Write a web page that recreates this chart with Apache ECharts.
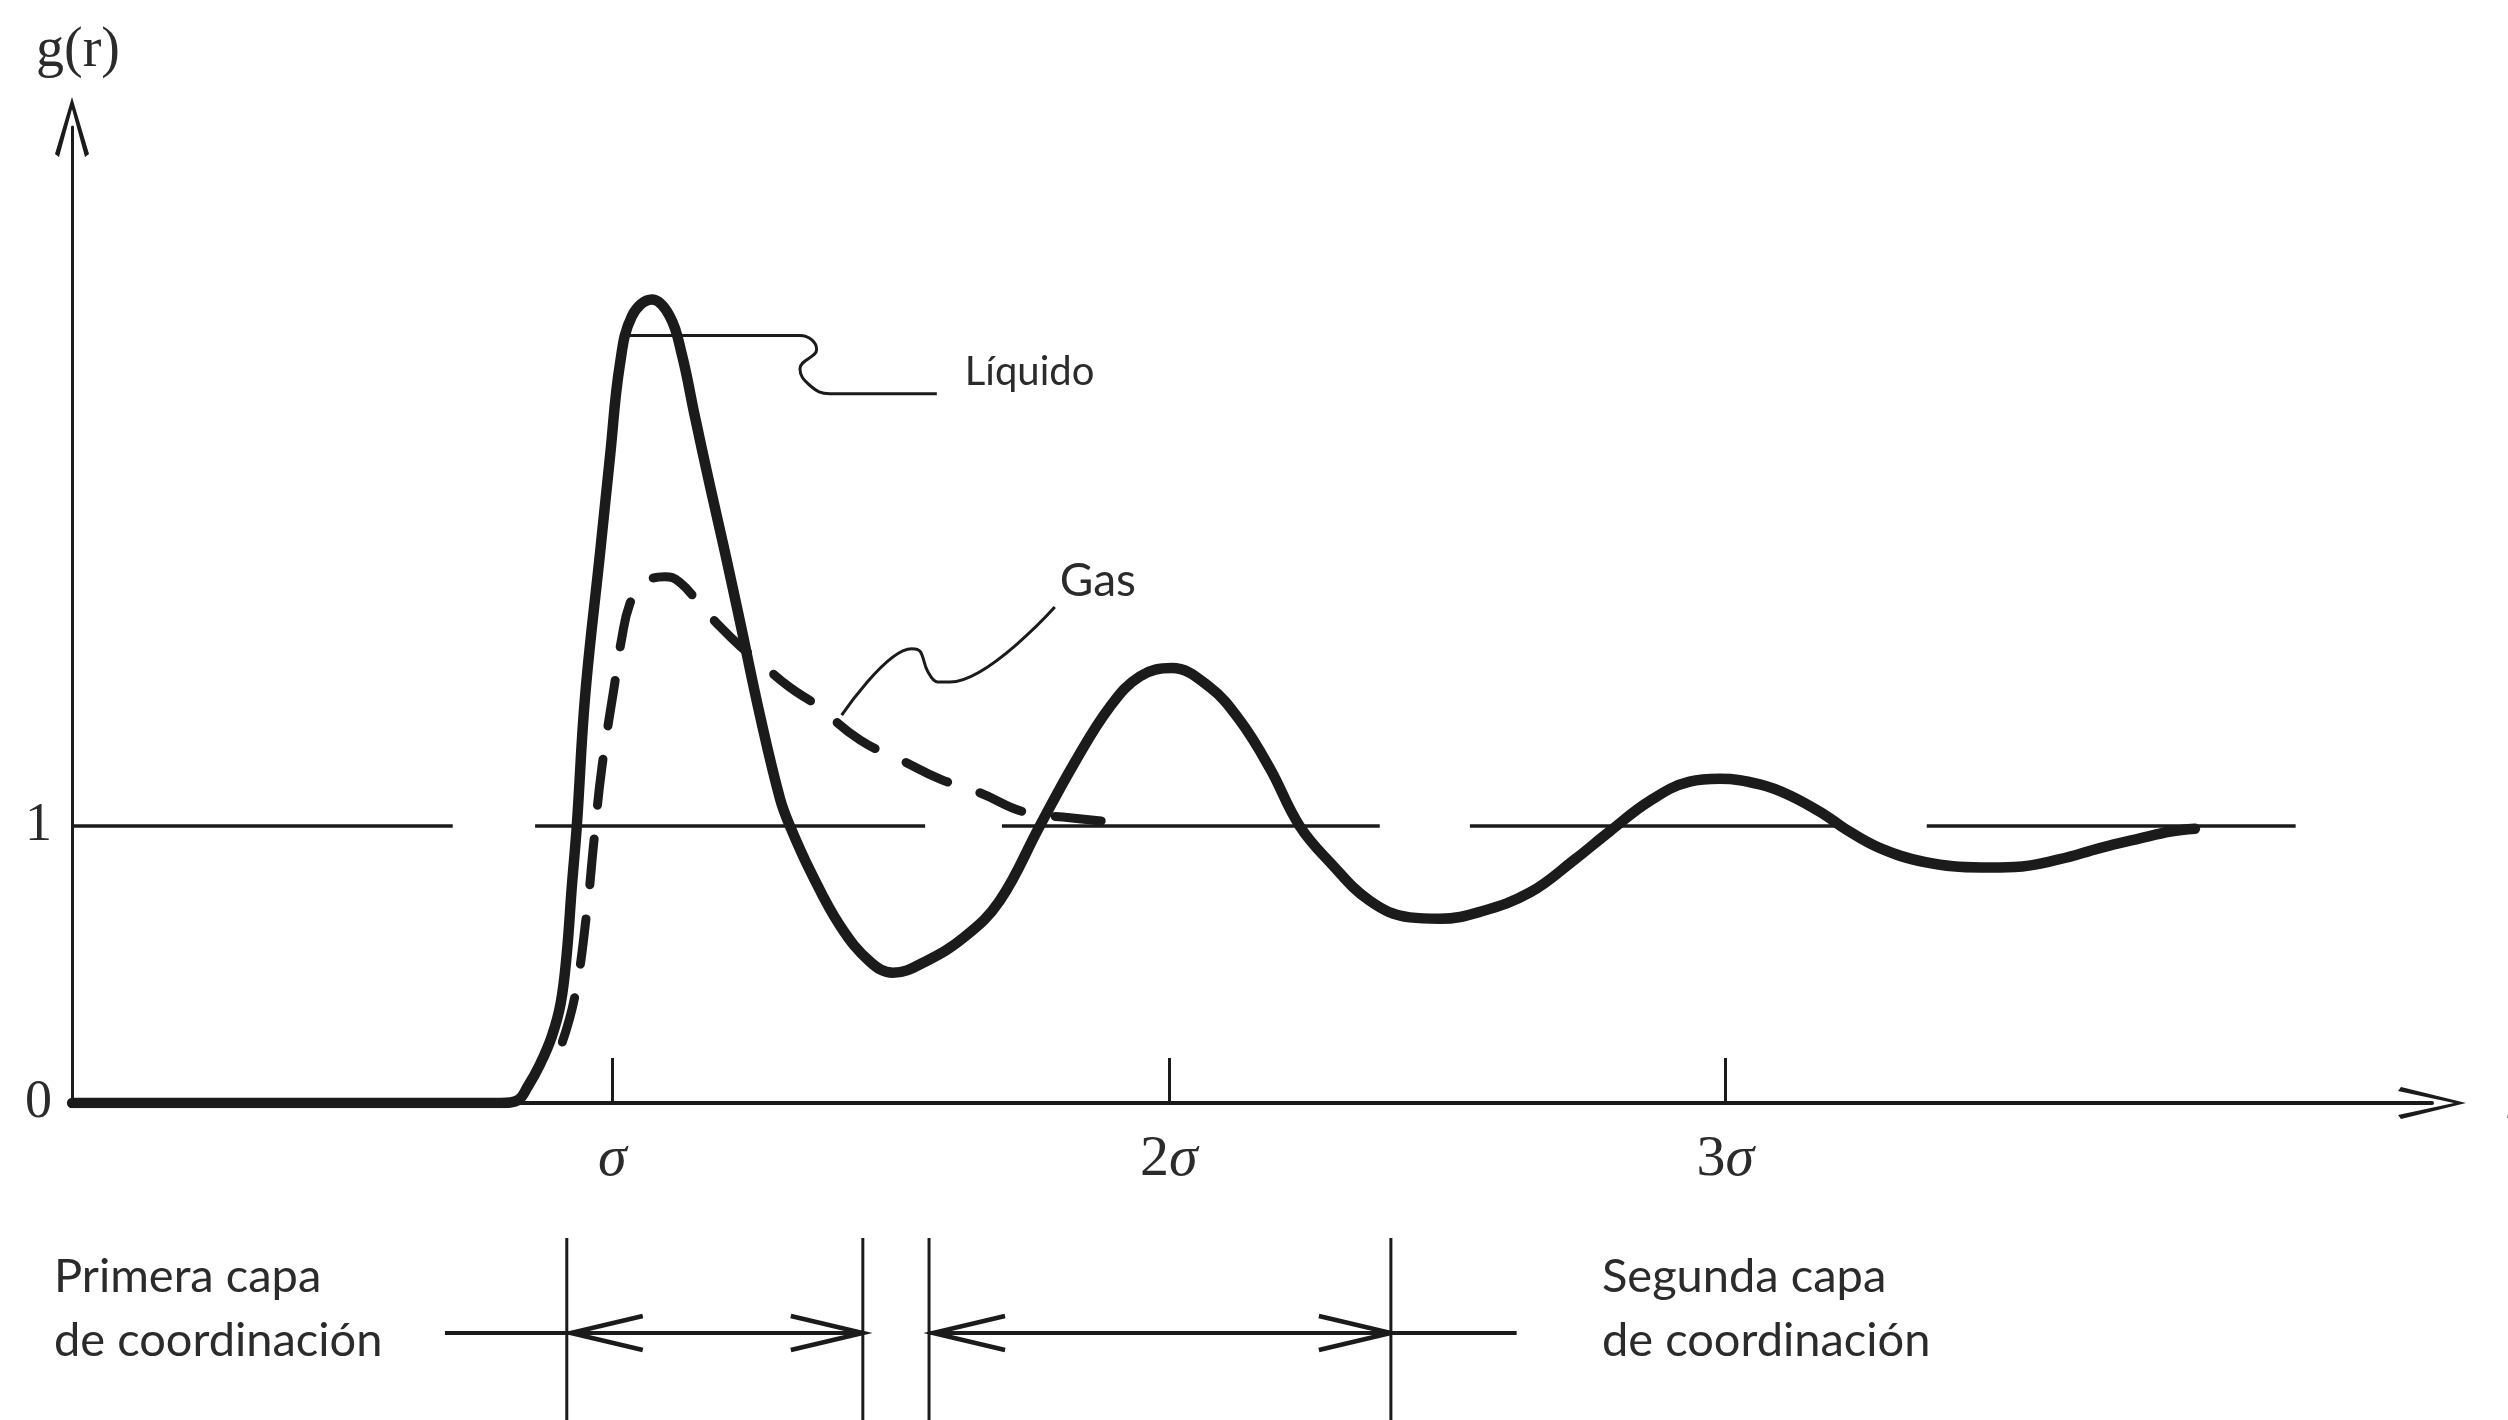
<!DOCTYPE html>
<html>
<head>
<meta charset="utf-8">
<script src="https://cdn.jsdelivr.net/npm/echarts@6/dist/echarts.min.js"></script>
<style>
  html, body { margin: 0; padding: 0; background: #ffffff; }
  #chart { width: 2508px; height: 1420px; }
</style>
</head>
<body>
<div id="chart"></div>
<script>
// Radial distribution function g(r); r is measured in units of the molecular diameter σ.
const liquidCurve = [
  [0.029, 0], [0.80, 0], [0.83, 0.01], [0.848, 0.06], [0.870, 0.14], [0.891, 0.24],
  [0.907, 0.36], [0.918, 0.54], [0.927, 0.78], [0.936, 1.0], [0.951, 1.47], [0.978, 1.99],
  [0.996, 2.34], [1.013, 2.66], [1.035, 2.84], [1.071, 2.90], [1.103, 2.84], [1.125, 2.70],
  [1.148, 2.48], [1.175, 2.23], [1.202, 1.99], [1.229, 1.74], [1.265, 1.40], [1.301, 1.10],
  [1.319, 1.0], [1.355, 0.84], [1.409, 0.64], [1.463, 0.51], [1.504, 0.47], [1.562, 0.51],
  [1.633, 0.60], [1.696, 0.73], [1.768, 1.0], [1.831, 1.23], [1.894, 1.43], [1.948, 1.54],
  [2.005, 1.57], [2.074, 1.50], [2.128, 1.38], [2.181, 1.21], [2.235, 1.0], [2.289, 0.87],
  [2.361, 0.73], [2.433, 0.67], [2.487, 0.665], [2.559, 0.69], [2.649, 0.76], [2.730, 0.88],
  [2.792, 0.98], [2.864, 1.09], [2.936, 1.16], [2.990, 1.17], [3.062, 1.15], [3.116, 1.11],
  [3.179, 1.04], [3.215, 0.99], [3.278, 0.92], [3.358, 0.87], [3.46, 0.85], [3.52, 0.852],
  [3.601, 0.88], [3.673, 0.92], [3.745, 0.955], [3.80, 0.98], [3.844, 0.99]
];

const gasCurve = [
  [0.91, 0.22], [0.933, 0.39], [0.954, 0.69], [0.967, 0.95], [0.981, 1.21], [1.003, 1.50],
  [1.017, 1.68], [1.031, 1.80], [1.049, 1.86], [1.067, 1.89], [1.094, 1.90], [1.121, 1.88],
  [1.157, 1.80], [1.193, 1.72], [1.229, 1.65], [1.265, 1.59], [1.319, 1.50], [1.364, 1.44],
  [1.445, 1.31], [1.517, 1.24], [1.588, 1.17], [1.660, 1.12], [1.741, 1.05], [1.822, 1.03],
  [1.921, 1.01]
];

// Pieces of the g = 1 reference level (start r, end r)
const unitLineSegments = [
  [0.029, 0.713], [0.861, 1.562], [1.700, 2.379], [2.541, 3.215], [3.362, 4.025]
];

const xTickValues = [1, 2, 3];
const xTickLabels = ['σ', '2σ', '3σ'];
const yTickValues = [0, 1];
const yTickLabels = ['0', '1'];

// Callout lines pointing at each curve
const liquidLeader = [
  [1.031, 2.77], [1.337, 2.77], [1.367, 2.72], [1.337, 2.65], [1.355, 2.59], [1.391, 2.56], [1.583, 2.56]
];
const gasLeader = [
  [1.412, 1.40], [1.538, 1.64], [1.553, 1.63], [1.566, 1.56], [1.584, 1.52], [1.607, 1.52], [1.795, 1.79]
];

// Coordination shells along r: [inner, outer]
const shellBounds = [[0.918, 1.450], [1.569, 2.399]];
const bracketTails = [0.699, 2.625];
const shellLabels = ['Primera capa\nde coordinación', 'Segunda capa\nde coordinación'];

const INK = '#1b1b1b';
const TEXT = '#2b2b2b';
const SANS = 'Lato, "Open Sans", sans-serif';
const SERIF = '"Liberation Serif", "DejaVu Serif", serif';

const chart = echarts.init(document.getElementById('chart'), null, { renderer: 'canvas' });

chart.setOption({
  animation: false,
  backgroundColor: '#ffffff',
  grid: { left: 72, right: 76, top: 127, bottom: 317, containLabel: false, outerBoundsMode: 'none' },
  xAxis: {
    type: 'value',
    min: 0.0288,
    max: 4.27,
    name: 'r',
    nameLocation: 'end',
    nameGap: 73,
    nameTextStyle: { fontFamily: SERIF, fontStyle: 'italic', fontSize: 56, color: TEXT, align: 'left', verticalAlign: 'middle' },
    splitLine: { show: false },
    axisLine: {
      onZero: false,
      lineStyle: { color: INK, width: 4 },
      symbol: ['none', 'path://M16,0 L32,65 L28,68 L16,12 L4,68 L0,65 Z'],
      symbolSize: [32, 68]
    },
    axisTick: {
      show: true, inside: true, length: 45, customValues: xTickValues,
      lineStyle: { color: INK, width: 3 }
    },
    axisLabel: {
      customValues: xTickValues,
      margin: 28,
      formatter: function (v) {
        const label = xTickLabels[xTickValues.indexOf(v)] || '';
        const m = label.match(/^(\d*)(σ)$/);
        return m ? (m[1] ? '{n|' + m[1] + '}' : '') + '{s|' + m[2] + '}' : label;
      },
      rich: {
        n: { fontFamily: SERIF, fontSize: 58, color: TEXT },
        s: { fontFamily: SERIF, fontStyle: 'italic', fontSize: 58, color: TEXT }
      }
    }
  },
  yAxis: {
    type: 'value',
    min: 0,
    max: 3.523,
    name: 'g(r)',
    nameLocation: 'end',
    nameGap: 48,
    nameTextStyle: { fontFamily: SERIF, fontSize: 56, color: TEXT, align: 'center', padding: [0, 0, 0, 12] },
    splitLine: { show: false },
    axisLine: {
      onZero: false,
      lineStyle: { color: INK, width: 3 },
      symbol: ['none', 'path://M17,0 L34,57 L30,60 L17,12 L4,60 L0,57 Z'],
      symbolSize: [34, 60]
    },
    axisTick: { show: false },
    axisLabel: {
      customValues: yTickValues,
      margin: 20,
      formatter: function (v) { return yTickLabels[yTickValues.indexOf(v)] || ''; },
      fontFamily: SERIF, fontSize: 54, color: TEXT
    }
  },
  series: [
    {
      name: 'g = 1',
      type: 'line',
      data: [],
      silent: true,
      z: 1,
      markLine: {
        silent: true,
        symbol: ['none', 'none'],
        label: { show: false },
        lineStyle: { color: INK, width: 3.5, type: 'solid' },
        emphasis: { disabled: true },
        data: unitLineSegments.map(s => [{ coord: [s[0], 1] }, { coord: [s[1], 1] }])
      }
    },
    {
      name: 'Gas',
      type: 'line',
      data: gasCurve,
      smooth: 0.45,
      showSymbol: false,
      silent: true,
      z: 3,
      lineStyle: { color: INK, width: 9, type: [46, 34], cap: 'round', join: 'round' }
    },
    {
      name: 'Líquido',
      type: 'line',
      data: liquidCurve,
      smooth: 0.4,
      showSymbol: false,
      silent: true,
      z: 4,
      lineStyle: { color: INK, width: 10.5, cap: 'round', join: 'round' }
    },
    {
      name: 'Líquido leader',
      type: 'line',
      data: liquidLeader,
      smooth: 0.45,
      showSymbol: false,
      silent: true,
      z: 5,
      lineStyle: { color: INK, width: 3 },
      endLabel: {
        show: true, formatter: 'Líquido', distance: 0, offset: [28, -22],
        fontFamily: SANS, fontSize: 40, color: TEXT
      }
    },
    {
      name: 'Gas leader',
      type: 'line',
      data: gasLeader,
      smooth: 0.35,
      showSymbol: false,
      silent: true,
      z: 5,
      lineStyle: { color: INK, width: 3 },
      endLabel: {
        show: true, formatter: 'Gas', distance: 0, offset: [5, -26],
        fontFamily: SANS, fontSize: 46, color: TEXT
      }
    }
  ]
});

// Coordination-shell brackets under the axis, placed from r through the x scale
function drawShellBrackets() {
  const toPx = r => chart.convertToPixel({ xAxisIndex: 0 }, r);
  const yArrow = 1333, yTop = 1238, yBottom = 1420;
  const headLen = 72, headHalf = 17;
  const elements = [];
  const head = { stroke: INK, lineWidth: 4.5, fill: null };

  shellBounds.forEach(function (b) {
    const xa = toPx(b[0]), xb = toPx(b[1]);
    [xa, xb].forEach(function (x) {
      elements.push({ type: 'line', silent: true, shape: { x1: x, y1: yTop, x2: x, y2: yBottom }, style: { stroke: INK, lineWidth: 3 } });
    });
    elements.push({ type: 'line', silent: true, shape: { x1: xa, y1: yArrow, x2: xb, y2: yArrow }, style: { stroke: INK, lineWidth: 4 } });
    elements.push({ type: 'polyline', silent: true, shape: { points: [[xa + 4 + headLen, yArrow - headHalf], [xa + 4, yArrow], [xa + 4 + headLen, yArrow + headHalf]] }, style: head });
    elements.push({ type: 'polyline', silent: true, shape: { points: [[xb - headLen, yArrow - headHalf], [xb, yArrow], [xb - headLen, yArrow + headHalf]] }, style: head });
  });

  elements.push({ type: 'line', silent: true, shape: { x1: toPx(bracketTails[0]), y1: yArrow, x2: toPx(shellBounds[0][0]), y2: yArrow }, style: { stroke: INK, lineWidth: 4 } });
  elements.push({ type: 'line', silent: true, shape: { x1: toPx(shellBounds[1][1]), y1: yArrow, x2: toPx(bracketTails[1]), y2: yArrow }, style: { stroke: INK, lineWidth: 4 } });

  const labelX = [54, 1602];
  shellLabels.forEach(function (t, i) {
    elements.push({
      type: 'text', silent: true, x: labelX[i], y: 1245,
      style: { text: t, font: '47px ' + SANS, fill: TEXT, lineHeight: 64, verticalAlign: 'top', align: 'left' }
    });
  });

  chart.setOption({ graphic: elements });
}

drawShellBrackets();
</script>
</body>
</html>
